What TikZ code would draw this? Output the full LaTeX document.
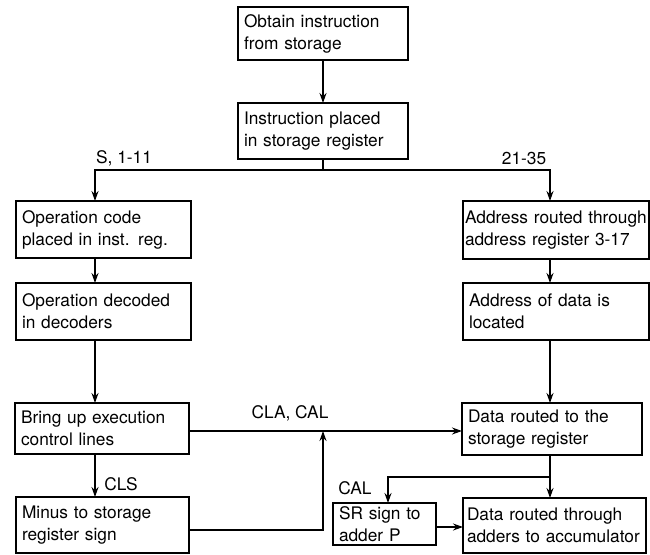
\documentclass[tikz,border=0pt]{standalone}
\usepackage{fontspec}
\setmainfont{TeX Gyre Heros}
\usetikzlibrary{arrows.meta,calc}
\newcommand\flowbox[7][6]{%
  \pgfmathsetmacro\bw{#5-#3}\pgfmathsetmacro\bh{#6-#4}\pgfmathsetmacro\tw{#5-#3-2*#1}%
  \node[box,inner xsep=#1pt,minimum width=\bw pt,minimum height=\bh pt,text width=\tw pt] (#2) at ({(#3+#5)/2},{(#4+#6)/2}) {#7};}
\begin{document}
\begin{tikzpicture}[x=1pt,y=-1pt,
  box/.style={draw,line width=1.3pt,inner ysep=0pt,outer sep=0pt,align=left,
    font=\fontsize{17.3}{22}\selectfont},
  lbl/.style={font=\fontsize{17.3}{22}\selectfont,inner sep=0pt},
  conn/.style={line width=1.3pt},
  arr/.style={conn,-{Stealth[length=10pt,width=7pt]}}]
\useasboundingbox (0,0) rectangle (650,554);
\flowbox{b1}{238}{7}{408}{60}{Obtain instruction\\from storage}
\flowbox{b2}{238}{103}{408}{159}{Instruction placed\\in storage register}
\flowbox{l1}{16}{201}{191}{258}{Operation code\\placed in inst. reg.}
\flowbox{l2}{16}{283}{191}{340}{Operation decoded\\in decoders}
\flowbox{l3}{15}{403}{189}{454}{Bring up execution\\control lines}
\flowbox{l4}{16}{497}{189}{553}{Minus to storage\\register sign}
\flowbox[2]{r1}{463}{201}{649}{259}{Address routed through\\address register 3-17}
\flowbox{r2}{463}{283}{649}{340}{Address of data is\\located}
\flowbox{r3}{462}{403}{642}{455}{Data routed to the\\storage register}
\flowbox[4]{r4}{463}{498}{646}{553}{Data routed through\\adders to accumulator}
\flowbox{sr}{333}{503}{436}{545}{SR sign to\\adder P}
\node[lbl] (t1) at (124,158) {S, 1-11};
\node[lbl] (t2) at (524,158) {21-35};
\node[lbl] (t3) at (290,413) {CLA, CAL};
\node[lbl] (t4) at (121,484) {CLS};
\node[lbl] (t5) at (355,488) {CAL};
\coordinate (L) at (95,0);
\coordinate (R) at (550,0);
\coordinate (split) at (323,170);
\coordinate (M1) at (323,431);
\coordinate (Y530) at (0,530);
\coordinate (Y527) at (0,527);
\coordinate (B) at (550,477);
\coordinate (S) at (388,0);
\draw[arr] (b1) -- (b2);
\draw[conn] (b2.south) -- (split);
\draw[arr] (split) -| (L |- l1.north);
\draw[arr] (split) -| (R |- r1.north);
\draw[arr] (L |- l1.south) -- (L |- l2.north);
\draw[arr] (L |- l2.south) -- (L |- l3.north);
\draw[arr] (L |- l3.south) -- (L |- l4.north);
\draw[arr] (l3.east |- M1) -- (r3.west |- M1);
\draw[arr] (l4.east |- Y530) -| (M1);
\draw[arr] (R |- r1.south) -- (R |- r2.north);
\draw[arr] (R |- r2.south) -- (R |- r3.north);
\draw[arr] (R |- r3.south) -- (R |- r4.north);
\draw[arr] (B) -| (S |- sr.north);
\draw[arr] (sr.east |- Y527) -- (r4.west |- Y527);
\end{tikzpicture}
\end{document}
